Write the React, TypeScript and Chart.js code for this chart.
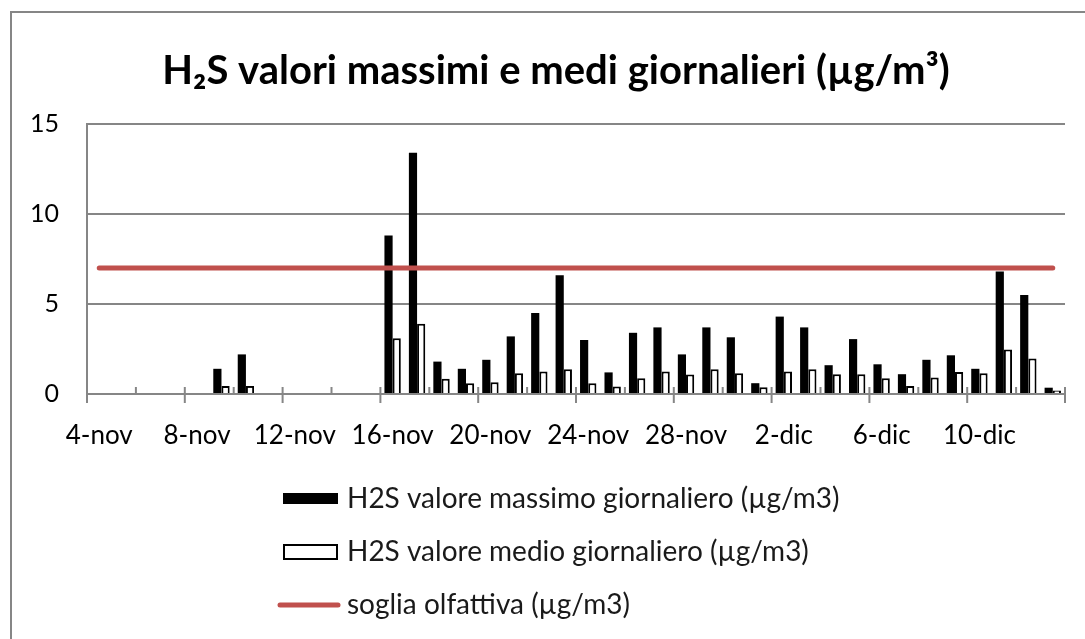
import React, { useEffect, useRef } from "react";
import { Chart, registerables } from "chart.js";

Chart.register(...registerables);

const TITLE = "H\u2082S valori massimi e medi giornalieri (\u00b5g/m\u00b3)";

const dates = [
  "4-nov", "5-nov", "6-nov", "7-nov", "8-nov", "9-nov", "10-nov", "11-nov", "12-nov", "13-nov",
  "14-nov", "15-nov", "16-nov", "17-nov", "18-nov", "19-nov", "20-nov", "21-nov", "22-nov", "23-nov",
  "24-nov", "25-nov", "26-nov", "27-nov", "28-nov", "29-nov", "30-nov", "1-dic", "2-dic", "3-dic",
  "4-dic", "5-dic", "6-dic", "7-dic", "8-dic", "9-dic", "10-dic", "11-dic", "12-dic", "13-dic",
];

const maxValues = [
  null, null, null, null, null, 1.4, 2.2, null, null, null,
  null, null, 8.8, 13.4, 1.8, 1.4, 1.9, 3.2, 4.5, 6.6,
  3.0, 1.2, 3.4, 3.7, 2.2, 3.7, 3.15, 0.6, 4.3, 3.7,
  1.6, 3.05, 1.65, 1.1, 1.9, 2.15, 1.4, 6.8, 5.5, 0.35,
];

const meanValues = [
  null, null, null, null, null, 0.45, 0.45, null, null, null,
  null, null, 3.1, 3.9, 0.85, 0.6, 0.65, 1.15, 1.25, 1.38,
  0.6, 0.42, 0.88, 1.25, 1.08, 1.38, 1.15, 0.38, 1.25, 1.38,
  1.1, 1.1, 0.88, 0.45, 0.92, 1.22, 1.15, 2.47, 1.97, 0.2,
];

const thresholdValue = 7;
const thresholdValues = dates.map(() => thresholdValue);

const yTicks = [0, 5, 10, 15];

const seriesLabels = [
  "H2S valore massimo giornaliero (\u00b5g/m3)",
  "H2S valore medio giornaliero (\u00b5g/m3)",
  "soglia olfattiva (\u00b5g/m3)",
];

const GRAY = "#868686";
const RED = "#C0504D";
const FONT = "Lato, 'Open Sans', sans-serif";

const framePlugin = {
  id: "frame",
  beforeDraw(chart: any) {
    const ctx = chart.ctx;
    ctx.save();
    ctx.strokeStyle = GRAY;
    ctx.lineWidth = 2;
    ctx.beginPath();
    ctx.moveTo(11, 700);
    ctx.lineTo(11, 12);
    ctx.lineTo(1100, 12);
    ctx.stroke();
    ctx.restore();
  },
};

const titlePlugin = {
  id: "chartTitle",
  afterDraw(chart: any) {
    const ctx = chart.ctx;
    ctx.save();
    ctx.font = `bold 40px ${FONT}`;
    ctx.fillStyle = "#000000";
    ctx.textAlign = "center";
    ctx.textBaseline = "middle";
    ctx.fillText(TITLE, 556, 71);
    ctx.restore();
  },
};

const tickPlugin = {
  id: "dateTicks",
  afterDatasetsDraw(chart: any) {
    const ctx = chart.ctx;
    const xs = chart.scales.x;
    const area = chart.chartArea;
    const n = dates.length;
    const step = (area.right - area.left) / n;
    const y0 = area.bottom;
    ctx.save();
    ctx.strokeStyle = GRAY;
    ctx.lineWidth = 2;
    for (let i = 0; i <= n; i += 2) {
      const x = i < n ? xs.getPixelForValue(i) - step / 2 : xs.getPixelForValue(n - 1) + step / 2;
      ctx.beginPath();
      if (i % 4 === 0) {
        ctx.moveTo(x, y0 - 7);
        ctx.lineTo(x, y0 + 9);
      } else {
        ctx.moveTo(x, y0 - 7);
        ctx.lineTo(x, y0);
      }
      ctx.stroke();
    }
    ctx.restore();
  },
};

const legendPlugin = {
  id: "customLegend",
  afterDraw(chart: any) {
    const ctx = chart.ctx;
    const ds = chart.data.datasets;
    const rows = [
      { ds: ds[1], y: 499 },
      { ds: ds[2], y: 552 },
      { ds: ds[0], y: 605 },
    ];
    const boxX = 283;
    const boxW = 55;
    const textX = 347;
    ctx.save();
    ctx.font = `28px ${FONT}`;
    ctx.textBaseline = "middle";
    ctx.textAlign = "left";
    rows.forEach((r) => {
      const d = r.ds;
      if (d.type === "line") {
        ctx.strokeStyle = d.borderColor;
        ctx.lineWidth = 5;
        ctx.lineCap = "round";
        ctx.beginPath();
        ctx.moveTo(boxX - 3, r.y);
        ctx.lineTo(boxX + boxW, r.y);
        ctx.stroke();
      } else if (d.backgroundColor === "#000000") {
        ctx.fillStyle = "#000000";
        ctx.fillRect(boxX, r.y - 6, boxW, 11);
      } else {
        ctx.fillStyle = "#ffffff";
        ctx.fillRect(boxX, r.y - 7, boxW, 14);
        ctx.strokeStyle = "#000000";
        ctx.lineWidth = 2;
        ctx.strokeRect(boxX + 1, r.y - 7, boxW - 2, 14);
      }
      ctx.fillStyle = "#1a1a1a";
      ctx.fillText(d.label, textX, r.y);
    });
    ctx.restore();
  },
};

export default function App() {
  const canvasRef = useRef<HTMLCanvasElement | null>(null);

  useEffect(() => {
    if (!canvasRef.current) return;
    const chart = new Chart(canvasRef.current, {
      type: "bar",
      data: {
        labels: dates,
        datasets: [
          {
            type: "line",
            label: seriesLabels[2],
            data: thresholdValues,
            borderColor: RED,
            backgroundColor: RED,
            borderWidth: 5,
            borderCapStyle: "round",
            pointRadius: 0,
            fill: false,
            order: 0,
          } as any,
          {
            type: "bar",
            label: seriesLabels[0],
            data: maxValues,
            backgroundColor: "#000000",
            borderWidth: 0,
            categoryPercentage: 0.67,
            barPercentage: 1,
            order: 1,
          },
          {
            type: "bar",
            label: seriesLabels[1],
            data: meanValues,
            backgroundColor: "#ffffff",
            borderColor: "#000000",
            borderWidth: 2,
            categoryPercentage: 0.67,
            barPercentage: 1,
            order: 1,
          },
        ],
      },
      options: {
        animation: false,
        responsive: true,
        maintainAspectRatio: false,
        layout: { padding: { left: 27, right: 20, top: 124, bottom: 0 } },
        plugins: {
          legend: { display: false },
          tooltip: { enabled: false },
          title: { display: false },
        },
        scales: {
          x: {
            type: "category",
            offset: true,
            grid: { display: false, drawTicks: false, offset: true },
            border: { display: true, color: GRAY, width: 2 },
            ticks: {
              autoSkip: false,
              maxRotation: 0,
              minRotation: 0,
              padding: 26,
              color: "#000000",
              font: { family: FONT, size: 26 },
              callback: (_v: any, i: number) => (i % 4 === 0 ? dates[i] : ""),
            },
            afterFit: (s: any) => {
              s.height = 245;
            },
          },
          y: {
            min: 0,
            max: 15,
            afterBuildTicks: (s: any) => {
              s.ticks = yTicks.map((v) => ({ value: v }));
            },
            grid: { color: GRAY, lineWidth: 2, drawTicks: false },
            border: { display: true, color: GRAY, width: 2 },
            ticks: {
              padding: 28,
              color: "#000000",
              font: { family: FONT, size: 25 },
            },
            afterFit: (s: any) => {
              s.width = 60;
            },
          },
        },
      },
      plugins: [framePlugin, titlePlugin, tickPlugin, legendPlugin],
    });
    return () => chart.destroy();
  }, []);

  return (
    <div style={{ position: "absolute", left: 0, top: 0, width: 1085, height: 639, background: "#ffffff" }}>
      <canvas ref={canvasRef} />
    </div>
  );
}
